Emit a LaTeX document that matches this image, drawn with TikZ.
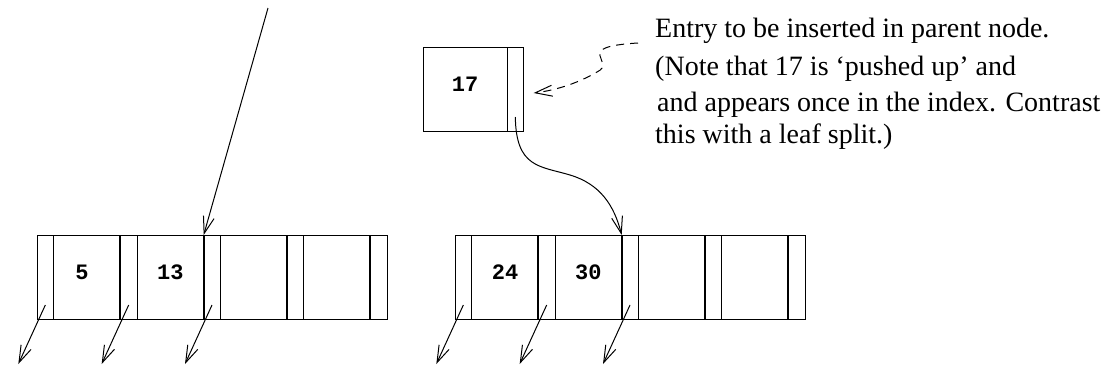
\documentclass[tikz,border=0pt]{standalone}
\usepackage{fontspec}
\setmainfont{Liberation Serif}
\newfontfamily\keyfont{Liberation Mono}
\usetikzlibrary{positioning,arrows.meta}

\tikzset{
  slot/.style={draw,line width=1pt,inner sep=0pt,outer sep=0pt,minimum height=84pt},
  ptr/.style={slot,minimum width=16.67pt},
  key/.style={slot,minimum width=66.67pt,text depth=10pt,font=\keyfont\bfseries\fontsize{22}{26}\selectfont},
  note/.style={anchor=base west,inner sep=0pt,font=\fontsize{28}{32}\selectfont},
  link/.style={line width=1pt,-{Straight Barb[length=17pt,width=11pt]}}
}

\begin{document}
\begin{tikzpicture}[x=1pt,y=-1pt]
  \useasboundingbox (0,0) rectangle (1107,373);
  \node[ptr,anchor=west] (lp0) at (37,277) {};
  \node[key,right=0pt of lp0] (lk1) {\hspace*{-10pt}5};
  \node[ptr,right=0pt of lk1] (lp1) {};
  \node[key,right=0pt of lp1] (lk2) {13};
  \node[ptr,right=0pt of lk2] (lp2) {};
  \node[key,right=0pt of lp2] (lk3) {};
  \node[ptr,right=0pt of lk3] (lp3) {};
  \node[key,right=0pt of lp3] (lk4) {};
  \node[ptr,right=0pt of lk4] (lp4) {};
  \node[ptr,anchor=west] (rp0) at (455,277) {};
  \node[key,right=0pt of rp0] (rk1) {24};
  \node[ptr,right=0pt of rk1] (rp1) {};
  \node[key,right=0pt of rp1] (rk2) {30};
  \node[ptr,right=0pt of rk2] (rp2) {};
  \node[key,right=0pt of rp2] (rk3) {};
  \node[ptr,right=0pt of rk3] (rp3) {};
  \node[key,right=0pt of rp3] (rk4) {};
  \node[ptr,right=0pt of rk4] (rp4) {};
  \foreach \k in {lk1,lk2,lk3,lk4,rk1,rk2,rk3,rk4}
    \draw[line width=1.8pt] (\k.north east) -- (\k.south east);
  \node[key,minimum width=84pt,anchor=west] (upk) at (423,89) {17};
  \node[ptr,right=0pt of upk] (upp) {};

  \node[note] (n1) at (655,37) {Entry to be inserted in parent node.};
  \node[note] (n2) at (655,75) {(Note that 17 is ‘pushed up’ and};
  \node[note] (n3) at (657,111) {and appears once in the index. Contrast};
  \node[note] (n4) at (655,143) {this with a leaf split.)};

  \coordinate (root) at (268,8);
  \coordinate (dstart) at (638,43);
  \draw[link] (root) -- (lp2.north west);
  \foreach \p in {lp0,lp1,lp2,rp0,rp1,rp2}
    \draw[link] ([yshift=14pt]\p.south) -- ++(-27,59);
  \draw[link,dash pattern=on 8pt off 6pt] (dstart) .. controls (570,47) and (618,62) .. (597,72)
    .. controls (580,82) and (558,90) .. ([shift={(10,4)}]upp.east);
  \draw[link] ([yshift=14pt]upp.south) .. controls (516,168) and (540,166) .. (570,175)
    .. controls (600,184) and (614,205) .. (rp2.north west);
\end{tikzpicture}
\end{document}
